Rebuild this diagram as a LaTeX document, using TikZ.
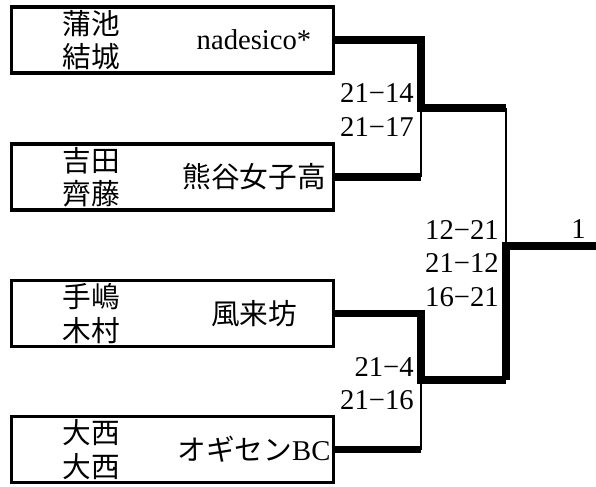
\documentclass[tikz,border=0pt]{standalone}
\usepackage{fontspec}
\setmainfont{Liberation Serif}
\newfontfamily\jp{Noto Sans CJK JP}
\begin{document}
\begin{tikzpicture}[x=0.75pt,y=-0.75pt,
  every node/.style={font=\fontsize{21.5}{25}\selectfont},
  teambox/.style={draw,line width=2.4pt,minimum width=241.5pt,minimum height=49.5pt,inner sep=0pt},
  pname/.style={align=center,font=\fontsize{21.5}{25}\selectfont\jp},
  score/.style={align=right,anchor=east,inner sep=0pt},
  win/.style={line width=5.4pt},
  lose/.style={line width=2.2pt}]
\useasboundingbox (0,0) rectangle (596,486);
\node[teambox](T1) at (172.5,40) {};
\node[teambox](T2) at (172.5,177) {};
\node[teambox](T3) at (172.5,313.5) {};
\node[teambox](T4) at (172.5,449.5) {};
\node[pname](P1) at (91,40) {蒲池\\結城};
\node[pname](P2) at (91,177) {吉田\\齊藤};
\node[pname](P3) at (91,313.5) {手嶋\\木村};
\node[pname](P4) at (91,449.5) {大西\\大西};
\node(C1) at (254,40) {nadesico*};
\node(C2) at (254,177) {\jp 熊谷女子高};
\node(C3) at (254,313.5) {\jp 風来坊};
\node(C4) at (254,449.5) {{\jp オギセン}BC};
\coordinate(A2) at (421,177);
\coordinate(A4) at (421,449.5);
\coordinate(J1) at (421,108);
\coordinate(J2) at (421,380);
\coordinate(F1) at (506,108);
\coordinate(F2) at (506,380);
\coordinate(J3) at (506,246);
\coordinate(E) at (596,246);
\draw[win](T1.east)-|(J1)--(F1);
\draw[win](T2.east)--(A2);
\draw[lose](A2)--(J1);
\draw[win](T3.east)-|(J2)--(F2);
\draw[win](T4.east)--(A4);
\draw[lose](A4)--(J2);
\draw[lose](F1)--(J3);
\draw[win](F2)--(J3)--(E);
\node[score](R1) at (414,110) {21−14\\21−17};
\node[score](R2) at (414,383.5) {21−4\\21−16};
\node[score](R3) at (499,263.5) {12−21\\21−12\\16−21};
\node[anchor=base east,inner sep=0pt](Rk) at (586,238) {1};
\end{tikzpicture}
\end{document}
